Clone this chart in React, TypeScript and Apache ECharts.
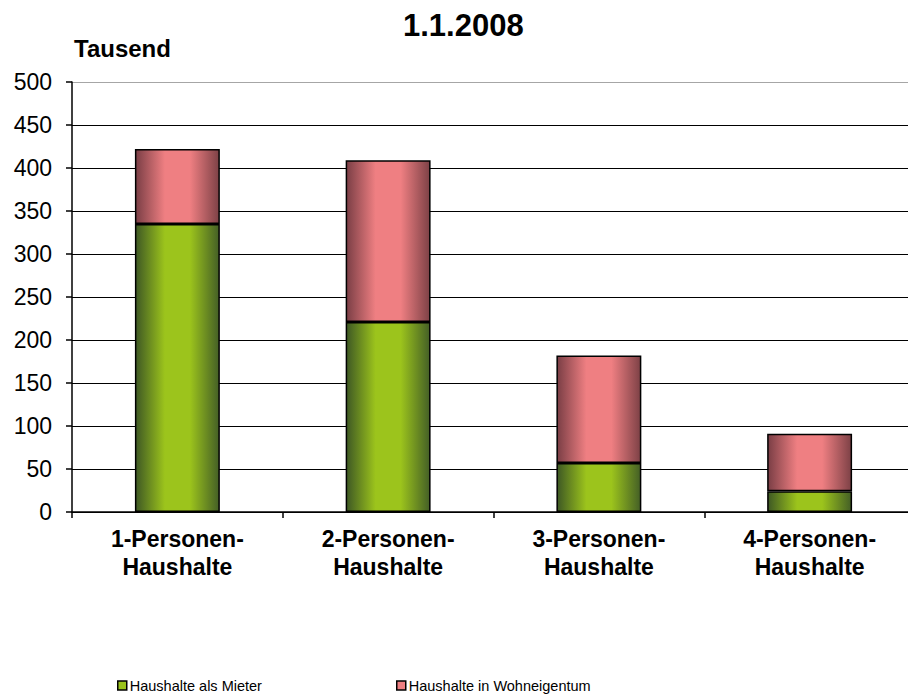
import React, { useEffect, useRef } from "react";
import * as echarts from "echarts";

const categories = ["1-Personen-\nHaushalte", "2-Personen-\nHaushalte", "3-Personen-\nHaushalte", "4-Personen-\nHaushalte"];
const mieter = [335, 221, 57, 24];
const eigentum = [87, 188, 125, 67];
const seriesNames = ["Haushalte als Mieter", "Haushalte in Wohneigentum"];
const yTicks = { min: 0, max: 500, interval: 50 };
const titleText = "1.1.2008";
const unitText = "Tausend";

const FONT = "Arial, 'Liberation Sans', sans-serif";

function grad(dark: string, bright: string, dark2: string) {
  return new echarts.graphic.LinearGradient(0, 0, 1, 0, [
    { offset: 0, color: dark },
    { offset: 0.35, color: bright },
    { offset: 0.65, color: bright },
    { offset: 1, color: dark2 },
  ]);
}

export default function App() {
  const ref = useRef<HTMLDivElement>(null);
  useEffect(() => {
    if (!ref.current) return;
    const chart = echarts.init(ref.current, null, { renderer: "svg" });
    const gridColors = Array.from({ length: 10 }, () => "#000").concat(["#a6a6a6"]);
    chart.setOption({
      animation: false,
      backgroundColor: "#fff",
      graphic: [
        {
          type: "text",
          left: 468 - 65,
          top: 10,
          style: { text: titleText, font: `bold 31px ${FONT}`, fill: "#000", width: 130, align: "center" },
        },
        {
          type: "text",
          left: 74,
          top: 36,
          style: { text: unitText, font: `bold 24px ${FONT}`, fill: "#000" },
        },
      ],
      legend: [
        {
          left: 112,
          top: 673,
          icon: "rect",
          itemWidth: 9,
          itemHeight: 9,
          itemGap: 4,
          textStyle: { fontFamily: FONT, fontSize: 14.5, color: "#000", padding: [0, 0, 0, -2] },
          data: [{ name: seriesNames[0], itemStyle: { color: "#9ac31c", borderColor: "#000", borderWidth: 1.5 } }],
        },
        {
          left: 391,
          top: 673,
          icon: "rect",
          itemWidth: 9,
          itemHeight: 9,
          textStyle: { fontFamily: FONT, fontSize: 14.5, color: "#000", padding: [0, 0, 0, -2] },
          data: [{ name: seriesNames[1], itemStyle: { color: "#ee7f82", borderColor: "#000", borderWidth: 1.5 } }],
        },
      ],
      grid: { left: 72, top: 82, right: 0, bottom: 186, containLabel: false },
      xAxis: {
        type: "category",
        data: categories,
        axisLine: { lineStyle: { color: "#000", width: 1.5 } },
        axisTick: { show: true, length: 6, lineStyle: { color: "#000", width: 1.5 } },
        axisLabel: {
          fontFamily: FONT,
          fontSize: 23,
          fontWeight: "bold",
          color: "#000",
          margin: 13,
          lineHeight: 28,
        },
      },
      yAxis: {
        type: "value",
        min: yTicks.min,
        max: yTicks.max,
        interval: yTicks.interval,
        axisLine: { show: true, lineStyle: { color: "#000", width: 1.5 } },
        axisTick: { show: true, length: 6, lineStyle: { color: "#000", width: 1.5 } },
        axisLabel: { fontFamily: FONT, fontSize: 23, color: "#000", margin: 20 },
        splitLine: { show: true, lineStyle: { color: gridColors, width: 1.2 } },
      },
      series: [
        {
          name: seriesNames[0],
          type: "bar",
          stack: "total",
          barWidth: "40.3%",
          data: mieter,
          itemStyle: {
            color: grad("#3e5824", "#9cc41c", "#445f26"),
            borderColor: "#000",
            borderWidth: 1.5,
          },
        },
        {
          name: seriesNames[1],
          type: "bar",
          stack: "total",
          barWidth: "40.3%",
          data: eigentum,
          itemStyle: {
            color: grad("#7a3e45", "#ef7f82", "#7d4146"),
            borderColor: "#000",
            borderWidth: 1.5,
          },
        },
      ],
    });
    return () => chart.dispose();
  }, []);
  return <div ref={ref} style={{ position: "fixed", left: 0, top: 0, width: 915, height: 698 }} />;
}
